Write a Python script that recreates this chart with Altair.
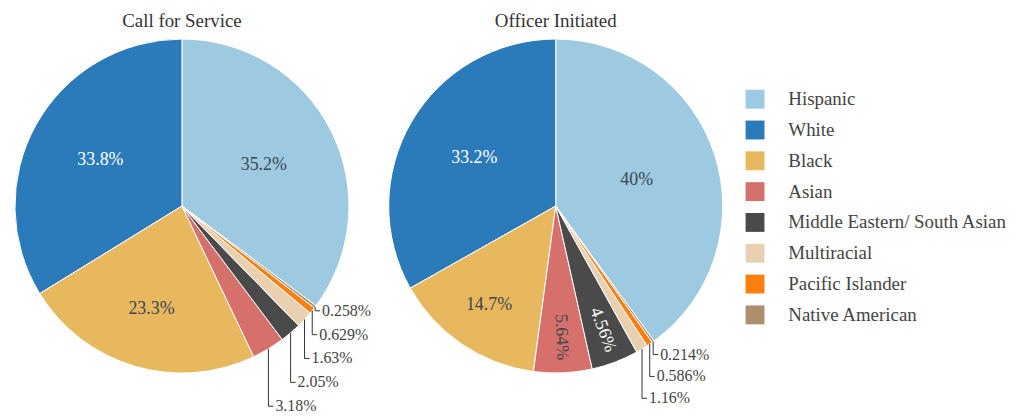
import altair as alt
import pandas as pd

# ---- data ----
groups = ["Hispanic", "White", "Black", "Asian", "Middle Eastern/ South Asian",
          "Multiracial", "Pacific Islander", "Native American"]
call_pct = [35.2, 33.8, 23.3, 3.18, 2.05, 1.63, 0.629, 0.258]
officer_pct = [40, 33.2, 14.7, 5.64, 4.56, 1.16, 0.586, 0.214]
titles = ["Call for Service", "Officer Initiated"]

# ---- style ----
colors = ["#9ecae1", "#2b7bba", "#e8b85e", "#d6706b", "#4a4a4a",
          "#e8d0b0", "#ff7f0e", "#ad8f6e"]
light_text_groups = ["White", "Middle Eastern/ South Asian"]
FONT = "Liberation Serif"
R = 168
W = 350
H = 350

# clockwise drawing order: first group first, then the rest in reverse
slice_order = [0] + list(range(len(groups) - 1, 0, -1))


def pie(title, values, lead_off, lead_step, show_legend):
    df = pd.DataFrame({"group": groups, "pct": values, "ord": slice_order})

    legend = None
    if show_legend:
        legend = alt.Legend(
            title=None, orient="none", legendX=742, legendY=58,
            symbolType="square", symbolSize=361, symbolStrokeWidth=0,
            labelFontSize=19, labelFont=FONT, labelColor="#444",
            labelOffset=24, rowPadding=11, padding=0, labelLimit=400,
        )

    arcs = alt.Chart(df).mark_arc(radius=R, stroke="white", strokeWidth=1).encode(
        theta=alt.Theta("pct:Q", stack=True),
        color=alt.Color("group:N", scale=alt.Scale(domain=groups, range=colors),
                        legend=legend),
        order=alt.Order("ord:Q", sort="ascending"),
    )

    base = (
        alt.Chart(df)
        .transform_joinaggregate(total="sum(pct)")
        .transform_window(cum="sum(pct)", sort=[alt.SortField("ord", order="ascending")],
                          frame=[None, 0])
        .transform_calculate(
            mid="2*PI*(datum.cum - datum.pct/2)/datum.total",
            lab="datum.pct + '%'",
        )
    )

    light_expr = " || ".join([f"datum.group == '{g}'" for g in light_text_groups])
    inner = (
        base.transform_filter("datum.pct >= 3.5")
        .transform_calculate(
            lr=f"{R}*(0.83 - 0.008*datum.pct)",
            tx=f"{W/2} + datum.lr*sin(datum.mid)",
            ty=f"{H/2} - datum.lr*cos(datum.mid)",
            ang="datum.pct < 10 ? datum.mid*180/PI - 90 : 0",
        )
        .mark_text(font=FONT, fontSize=18, align="center", baseline="middle")
        .encode(
            x=alt.X("tx:Q", scale=None),
            y=alt.Y("ty:Q", scale=None),
            text="lab:N",
            angle=alt.Angle("ang:Q", scale=None),
            color=alt.condition(light_expr, alt.value("white"), alt.value("#3a4650")),
        )
    )

    outer = (
        base.transform_filter("datum.pct < 3.5")
        .transform_calculate(
            ex=f"{W/2} + {R}*sin(datum.mid)",
            ey=f"{H/2} - {R}*cos(datum.mid)",
        )
        .transform_window(rank="row_number()", sort=[alt.SortField("ord", order="ascending")])
        .transform_joinaggregate(ey0="min(ey)")
        .transform_calculate(
            ly=f"datum.ey0 + {lead_off} + {lead_step}*(datum.rank - 1)",
            ex2="datum.ex + 5",
            tx="datum.ex + 7",
        )
    )
    vrule = outer.mark_rule(color="#333", strokeWidth=1).encode(
        x=alt.X("ex:Q", scale=None), y=alt.Y("ey:Q", scale=None), y2="ly:Q")
    hrule = outer.mark_rule(color="#333", strokeWidth=1).encode(
        x=alt.X("ex:Q", scale=None), x2="ex2:Q", y=alt.Y("ly:Q", scale=None))
    otext = outer.mark_text(font=FONT, fontSize=16, align="left", baseline="middle",
                            color="#444").encode(
        x=alt.X("tx:Q", scale=None), y=alt.Y("ly:Q", scale=None), text="lab:N")

    return alt.layer(arcs, inner, vrule, hrule, otext).properties(
        width=W, height=H,
        title=alt.TitleParams(title, font=FONT, fontSize=19, fontWeight="normal",
                              color="#333", anchor="middle", offset=1),
    )


chart = (
    alt.hconcat(
        pie(titles[0], call_pct, 4, 24, True),
        pie(titles[1], officer_pct, 13, 22, False),
        spacing=26,
    )
    .properties(padding={"top": 3, "left": 0, "right": 0, "bottom": 0}, bounds="flush")
    .configure_view(stroke=None)
)

chart.save("out.html", embed_options={"renderer": "svg", "actions": False})
